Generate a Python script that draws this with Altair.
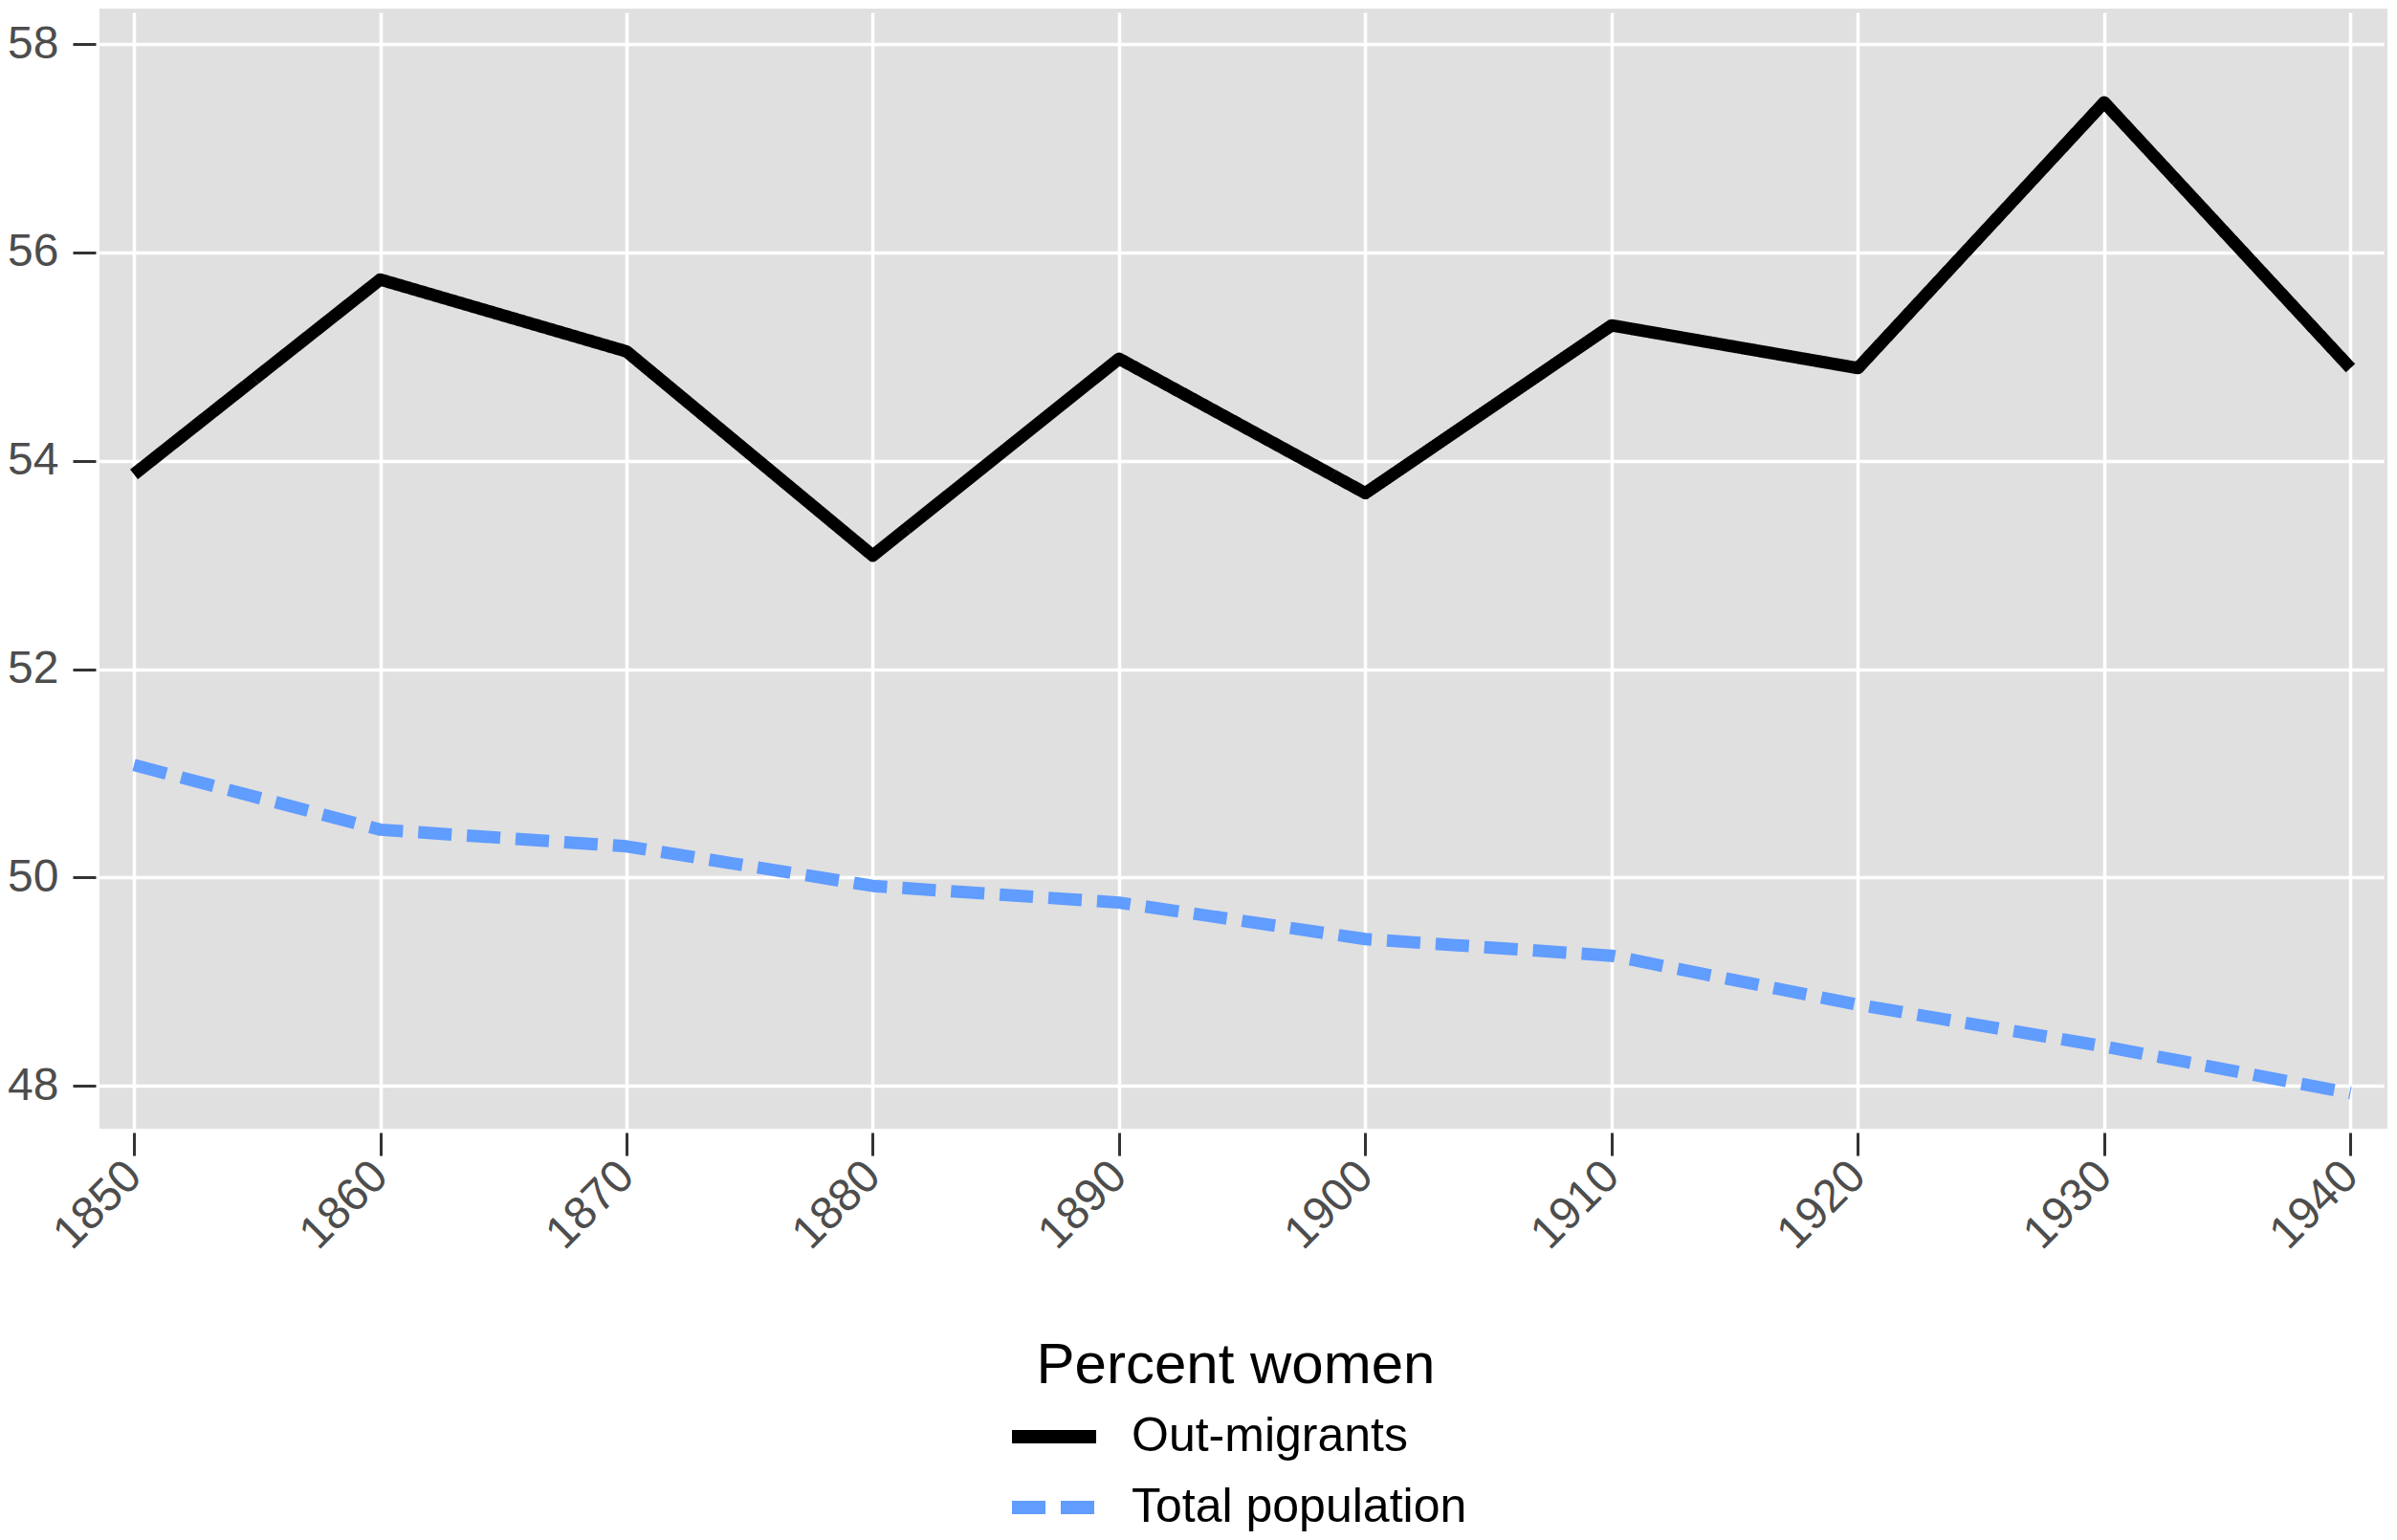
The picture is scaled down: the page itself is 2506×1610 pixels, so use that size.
import altair as alt
import pandas as pd

years = [1850, 1860, 1870, 1880, 1890, 1900, 1910, 1920, 1930, 1940]
out_migrants = [53.87, 55.74, 55.05, 53.09, 54.98, 53.69, 55.30, 54.89, 57.44, 54.89]
total_population = [51.08, 50.46, 50.30, 49.92, 49.76, 49.41, 49.25, 48.78, 48.38, 47.93]
series_names = ["Out-migrants", "Total population"]
series_colors = ["#000000", "#619CFF"]
y_ticks = [48, 50, 52, 54, 56, 58]
legend_title = "Percent women"

rows = []
for yr, a, b in zip(years, out_migrants, total_population):
    rows.append({"year": yr, "pct": a, "series": series_names[0]})
    rows.append({"year": yr, "pct": b, "series": series_names[1]})
df = pd.DataFrame(rows)

FONT = "Liberation Sans, Arial, sans-serif"

legend = alt.Legend(
    title=legend_title,
    orient="none",
    legendX=947,
    legendY=1390,
    direction="vertical",
    symbolType="stroke",
    symbolSize=7744,
    symbolStrokeWidth=14,
    clipHeight=50,
    rowPadding=24,
    titlePadding=18,
    labelOffset=30,
    labelLimit=0,
    titleLimit=0,
    titleAnchor="middle",
    padding=0,
)

chart = (
    alt.Chart(df)
    .mark_line(strokeWidth=13, strokeCap="butt", strokeJoin="round")
    .encode(
        x=alt.X(
            "year:Q",
            scale=alt.Scale(domain=[1848.6, 1941.5], nice=False, zero=False),
            axis=alt.Axis(
                values=years,
                format="d",
                title=None,
                labelAngle=315,
                labelAlign="right",
                labelBaseline="middle",
                labelPadding=14,
            ),
        ),
        y=alt.Y(
            "pct:Q",
            scale=alt.Scale(domain=[47.59, 58.34], nice=False, zero=False),
            axis=alt.Axis(values=y_ticks, title=None, labelPadding=15),
        ),
        color=alt.Color(
            "series:N",
            scale=alt.Scale(domain=series_names, range=series_colors),
            legend=legend,
        ),
        strokeDash=alt.StrokeDash(
            "series:N",
            scale=alt.Scale(domain=series_names, range=[[1, 0], [35, 16]]),
            legend=legend,
        ),
    )
    .properties(
        width=2392,
        height=1171,
        autosize=alt.AutoSizeParams(type="none"),
        padding={"left": 96, "top": 1, "right": 0, "bottom": 422},
    )
    .configure_view(fill="#E0E0E0", stroke=None)
    .configure_axis(
        labelFont=FONT,
        labelFontSize=48,
        labelColor="#4D4D4D",
        tickColor="#333333",
        tickWidth=3,
        tickSize=24,
        offset=4,
        domain=False,
        grid=True,
        gridColor="#FFFFFF",
        gridWidth=3.5,
        labelLimit=0,
    )
    .configure_legend(
        labelFont=FONT,
        labelFontSize=50,
        labelColor="#000000",
        titleFont=FONT,
        titleFontSize=60,
        titleFontWeight="normal",
        titleColor="#000000",
    )
)

chart.save("out.html", embed_options={"renderer": "svg", "actions": False})
